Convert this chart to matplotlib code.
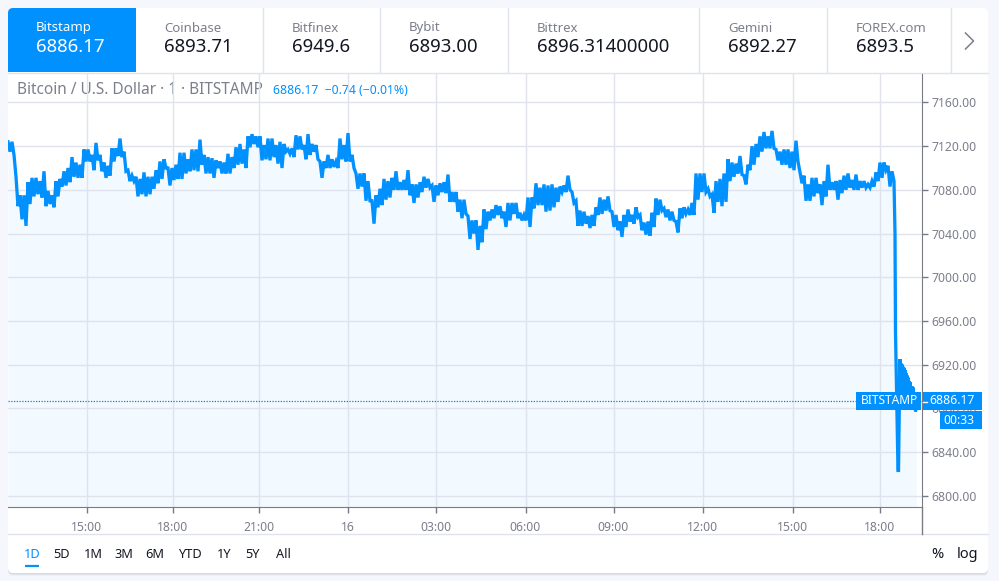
import matplotlib
matplotlib.use("Agg")
import matplotlib.pyplot as plt
from matplotlib.patches import FancyBboxPatch, Rectangle
import numpy as np

plt.rcParams['font.family'] = ['Noto Sans', 'DejaVu Sans']

# ---------- data ----------
tab_names = ["Bitstamp", "Coinbase", "Bitfinex", "Bybit", "Bittrex", "Gemini", "FOREX.com"]
tab_prices = ["6886.17", "6893.71", "6949.6", "6893.00", "6896.31400000", "6892.27", "6893.5"]
range_labels = ["1D", "5D", "1M", "3M", "6M", "YTD", "1Y", "5Y", "All"]

# sampled prices: one value every 4 bars, tracing the high/low swing of the line
closes = [
 7124,7115,7124,7112,7092,7065,7075,7053,7075,7047,7087,7067,7091,7074,7091,7076,7088,7073,7097,7065,
 7079,7067,7075,7064,7088,7074,7090,7083,7097,7084,7100,7087,7110,7092,7105,7091,7103,7091,7117,7106,
 7117,7106,7112,7098,7123,7107,7112,7097,7105,7091,7102,7093,7118,7106,7118,7111,7127,7110,7115,7097,
 7098,7088,7093,7088,7092,7074,7090,7076,7096,7074,7092,7076,7092,7081,7098,7086,7106,7090,7108,7100,
 7100,7084,7100,7089,7103,7090,7114,7090,7114,7095,7108,7097,7117,7098,7117,7097,
 7126,7103,7112,7095,7110,7095,7109,7091,7107,7100,7106,7095,7105,7095,7113,7095,7110,7100,7119,7103,
 7122,7104,7117,7100,7129,7119,7131,7122,7129,7119,7129,7107,7121,7108,7127,7107,7127,7110,7121,7104,
 7124,7100,7122,7115,7117,7113,7118,7110,7130,7117,7129,7117,7121,7108,7131,7112,7122,7115,7121,7108,
 7106,7091,7106,7100,7112,7100,7108,7101,7106,7100,7127,7108,7121,7106,7132,7106,7112,7100,7095,7081,
 7095,7083,7095,7070,7088,7070,7070,7049,7075,7064,7081,7066,
 7090,7071,7088,7073,7091,7080,7097,7080,7087,7080,7089,7080,7098,7075,7085,7068,7085,7073,7087,7078,
 7092,7082,7090,7082,7084,7069,7084,7075,7086,7078,7087,7077,7094,7069,7078,7069,7078,7060,7071,7054,
 7071,7058,7056,7035,7052,7040,7052,7025,7047,7032,7062,7044,7060,7052,7062,7054,7066,7057,7065,7054,
 7060,7046,7068,7052,7068,7058,7068,7054,7059,7052,7057,7052,7073,7046,7073,7063,7086,7066,7082,7066,
 7085,7060,7084,7061,7085,7064,7082,7069,
 7083,7078,7084,7078,7093,7080,7078,7068,7070,7047,7061,7047,7060,7049,7056,7045,7057,7047,7064,7057,
 7073,7058,7071,7061,7074,7061,7060,7046,7057,7043,7051,7037,7057,7046,7062,7051,7057,7049,7064,7055,
 7057,7043,7050,7039,7051,7038,7059,7046,7072,7057,7071,7061,7063,7055,7062,7052,7060,7052,7051,7041,
 7063,7054,7064,7058,7062,7057,7068,7057,7095,7071,7095,7078,7095,7078,7081,7074,7076,7059,7088,7069,
 7090,7065,7095,7069,7108,7088,7105,7092,7104,7095,
 7111,7094,7093,7085,7103,7098,7120,7103,7122,7110,7129,7115,7133,7118,7129,7118,7134,7118,7117,7107,
 7115,7103,7117,7103,7117,7100,7115,7098,7125,7106,7096,7086,7093,7070,7085,7070,7091,7074,7091,7077,
 7085,7066,7088,7074,7103,7080,7087,7080,7088,7071,7089,7077,7093,7080,7095,7082,7089,7080,7094,7080,
 7088,7082,7088,7082,7085,7082,7088,7083,7096,7088,7105,7091,7105,7098,7102,7083,7097,7088,
]
# the crash and the last bars
tail_bars = [1774, 1775, 1776, 1777, 1778, 1780, 1781, 1782, 1783, 1784, 1785, 1786, 1787, 1788, 1789, 1790,
             1791, 1792, 1793, 1794, 1795, 1796, 1797, 1798, 1799, 1800, 1801, 1802, 1803, 1804, 1805, 1806,
             1807, 1808, 1809, 1810, 1811, 1812, 1813, 1814, 1815, 1816, 1817]
tail_closes = [7040, 6950, 6925, 6905, 6880, 6823, 6823, 6860, 6895, 6925, 6885, 6921, 6882, 6920, 6884, 6918,
               6882, 6917, 6884, 6915, 6882, 6912, 6884, 6910, 6882, 6908, 6884, 6905, 6882, 6904, 6884, 6900,
               6882, 6900, 6884, 6899, 6882, 6894, 6880, 6892, 6877, 6880, 6886.17]

time_ticks = [157, 329, 501, 679, 856, 1035, 1211, 1389, 1569, 1744]
time_labels = ["15:00", "18:00", "21:00", "16", "03:00", "06:00", "09:00", "12:00", "15:00", "18:00"]
price_ticks = [7160, 7120, 7080, 7040, 7000, 6960, 6920, 6880, 6840, 6800]
last_price = 6886.17

# ---------- style ----------
W, H = 999, 581
BLUE = "#0091FF"
GRID = "#E0E3EE"
AXIS = "#787B86"
GRAY = "#7C7F8C"
INK = "#131722"

bars = np.concatenate([np.arange(len(closes)) * 4, tail_bars])
prices = np.concatenate([closes, tail_closes])

fig = plt.figure(figsize=(W / 100, H / 100), dpi=100, facecolor="#F5F7FC")

def px_axes(z):
    a = fig.add_axes([0, 0, 1, 1], zorder=z)
    a.set_xlim(0, W); a.set_ylim(H, 0); a.axis("off"); a.patch.set_alpha(0)
    return a

bg = px_axes(0)
for off, al in ((3, .05), (2, .07), (1, .09)):
    bg.add_patch(FancyBboxPatch((8, 8 + off), 980, 565, boxstyle="round,pad=0,rounding_size=5",
                                fc="#5A6078", ec="none", alpha=al))
bg.add_patch(FancyBboxPatch((8, 8), 980, 565, boxstyle="round,pad=0,rounding_size=5", fc="white", ec="none"))
bg.add_patch(FancyBboxPatch((8, 8), 128, 70, boxstyle="round,pad=0,rounding_size=5", fc=BLUE, ec="none"))
bg.add_patch(Rectangle((8, 72), 130, 8, fc="white", ec="none"))
bg.add_patch(Rectangle((131, 8), 7, 64, fc="white", ec="none"))
bg.add_patch(Rectangle((128, 8), 8, 64, fc=BLUE, ec="none"))
bg.plot([8, 988], [72.5, 72.5], color=GRID, lw=1)
bg.plot([8, 988], [534, 534], color=GRID, lw=1)
for x in (263, 380, 508, 699, 827, 951):
    bg.plot([x, x], [8, 72], color=GRID, lw=1)
tab_x = [36, 164, 292, 409, 537, 728, 856]
for i, (n, p, x) in enumerate(zip(tab_names, tab_prices, tab_x)):
    bg.text(x, 28, n, fontsize=9.5, color="white" if i == 0 else GRAY, va="center", ha="left")
    bg.text(x, 47.5, p, fontsize=13.4, color="white" if i == 0 else INK, va="center", ha="left")
bg.plot([965.5, 973.5, 965.5], [33, 41, 49], color=GRAY, lw=1.1)

bg.text(17, 90.5, "Bitcoin / U.S. Dollar · 1 · BITSTAMP", fontsize=11.1, color=GRAY, va="center", ha="left")
bg.text(273, 91, "6886.17  −0.74 (−0.01%)", fontsize=8.8, color=BLUE, va="center", ha="left")

range_x = [32, 62, 93, 124, 155, 190, 224, 253, 283]
for i, (lab, x) in enumerate(zip(range_labels, range_x)):
    bg.text(x, 554, lab, fontsize=9.2, color=BLUE if i == 0 else INK, va="center", ha="center")
bg.plot([25, 39], [566, 566], color=BLUE, lw=1.6, solid_capstyle="butt")
bg.text(937, 554, "%", fontsize=10.5, color=INK, va="center", ha="center")
bg.text(968, 554, "log", fontsize=10.5, color=INK, va="center", ha="center")

# ---------- chart ----------
ax = fig.add_axes([8 / W, 1 - 507 / H, 914 / W, 433 / H], zorder=1)
ax.patch.set_alpha(0)
ax.set_xlim(0, 1828)
ax.set_ylim(6789.5, 7186.1)
ax.fill_between(bars, prices, 6789.5, color="#F2F9FF", lw=0, zorder=0.4)
ax.set_axisbelow(True)
ax.grid(True, color=GRID, lw=1)
ax.plot(bars, prices, color=BLUE, lw=2.35, solid_joinstyle="miter", zorder=2)
ax.axhline(last_price, color="#2478BE", lw=0.9, ls=(0, (1, 1.2)), zorder=1.5)

ax.yaxis.tick_right()
ax.set_yticks(price_ticks, [f"{v:.2f}" for v in price_ticks])
ax.set_xticks(time_ticks, time_labels)
ax.tick_params(axis="y", length=4, width=1, color=AXIS, labelcolor=GRAY, labelsize=8.8, pad=2.5)
ax.tick_params(axis="x", length=4, width=1, color=AXIS, labelcolor=GRAY, labelsize=8.8, pad=6)
for lab in ax.get_xticklabels():
    if lab.get_text() == "16":
        lab.set_fontweight("bold")
for s in ("top", "left"):
    ax.spines[s].set_visible(False)
ax.spines["right"].set_color(AXIS)
ax.spines["bottom"].set_color(AXIS)

# ---------- overlays ----------
ov = px_axes(2)
ov.plot([922, 922], [507, 534], color=AXIS, lw=1)
ov.add_patch(Rectangle((856, 392), 65, 18, fc=BLUE, ec="none"))
ov.add_patch(Rectangle((923, 392), 59, 18, fc=BLUE, ec="none"))
ov.add_patch(Rectangle((940, 411), 42, 18, fc=BLUE, ec="none"))
ov.plot([923, 927], [401.5, 401.5], color="white", lw=1)
ov.text(890, 401, "BITSTAMP", fontsize=8.6, color="white", va="center", ha="center")
ov.text(952, 401, "6886.17", fontsize=8.8, color="white", va="center", ha="center")
ov.text(959, 420, "00:33", fontsize=8.8, color="white", va="center", ha="center")

fig.savefig("out.png", dpi=100, facecolor=fig.get_facecolor())
